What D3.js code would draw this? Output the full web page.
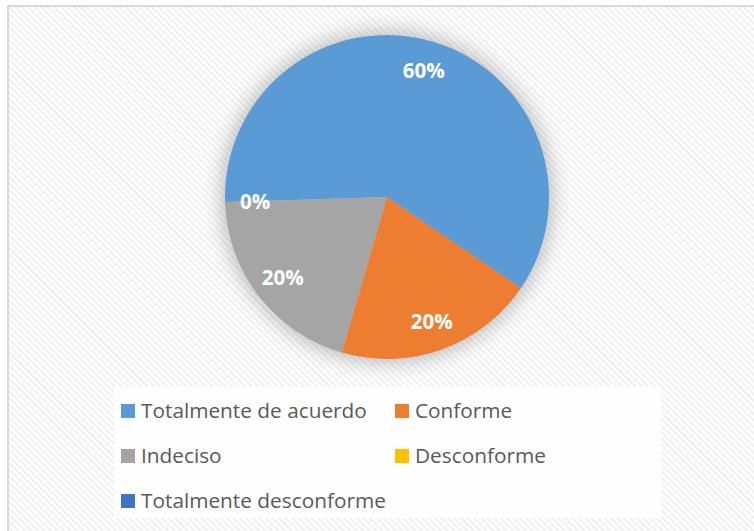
<!DOCTYPE html>
<html><head><meta charset="utf-8">
<script src="https://cdn.jsdelivr.net/npm/d3@7"></script>
<style>html,body{margin:0;padding:0;background:#fff;overflow:hidden}</style>
</head><body>
<svg id="c" width="754" height="531"></svg>
<script>
const categories = ["Totalmente de acuerdo","Conforme","Indeciso","Desconforme","Totalmente desconforme"];
const values = [60,20,20,0,0];
const labels = ["60%","20%","20%","0%",""];
const colors = ["#5B9BD5","#ED7D31","#A5A5A5","#FFC000","#4472C4"];

const svg = d3.select("#c");
const defs = svg.append("defs");
const pat = defs.append("pattern").attr("id","hatch").attr("patternUnits","userSpaceOnUse")
  .attr("width",4.6).attr("height",4.6).attr("patternTransform","rotate(-45)");
pat.append("rect").attr("width",4.6).attr("height",4.6).attr("fill","#ffffff");
pat.append("rect").attr("width",2.3).attr("height",4.6).attr("fill","#f0f0f0");
const f = defs.append("filter").attr("id","sh").attr("x","-50%").attr("y","-50%").attr("width","200%").attr("height","200%");
f.append("feGaussianBlur").attr("stdDeviation",9);

svg.append("rect").attr("x",8).attr("y",6).attr("width",800).attr("height",600)
  .attr("fill","url(#hatch)").attr("stroke","#d9d9d9").attr("stroke-width",2);

const cx = 387, cy = 197, R = 162;
const g = svg.append("g").attr("transform",`translate(${cx},${cy})`);
g.append("circle").attr("r",R+5).attr("fill","#000").attr("opacity",0.22).attr("filter","url(#sh)");

const start = 268.2*Math.PI/180;
const pie = d3.pie().sort(null).value(d=>d).startAngle(start).endAngle(start+2*Math.PI);
const arcs = pie(values);
const arc = d3.arc().innerRadius(0).outerRadius(R);
g.selectAll("path.s").data(arcs).join("path").attr("class","s")
  .attr("d",arc).attr("fill",(d,i)=>colors[i]);

const la = d3.arc().innerRadius(132).outerRadius(132);
g.selectAll("text.l").data(arcs).join("text").attr("class","l")
  .attr("transform",d=>`translate(${la.centroid(d)})`)
  .attr("text-anchor","middle").attr("dy","0.36em")
  .attr("font-family","'Open Sans', sans-serif").attr("font-weight","bold")
  .attr("font-size",20.5).attr("fill","#fff")
  .text((d,i)=>labels[i]);

// legend
svg.append("rect").attr("x",114).attr("y",387).attr("width",547).attr("height",131)
  .attr("fill","#fff").attr("opacity",0.85);
const colX = [121,395], rowY = [411,456,501];
const lg = svg.append("g").selectAll("g").data(categories).join("g")
  .attr("transform",(d,i)=>`translate(${colX[i%2]},${rowY[Math.floor(i/2)]})`);
lg.append("rect").attr("x",0).attr("y",-7).attr("width",14).attr("height",14).attr("fill",(d,i)=>colors[i]);
lg.append("text").attr("x",20).attr("dy","0.35em")
  .attr("font-family","'Open Sans', sans-serif").attr("font-size",20.8).attr("fill","#595959")
  .text(d=>d);
</script>
</body></html>
